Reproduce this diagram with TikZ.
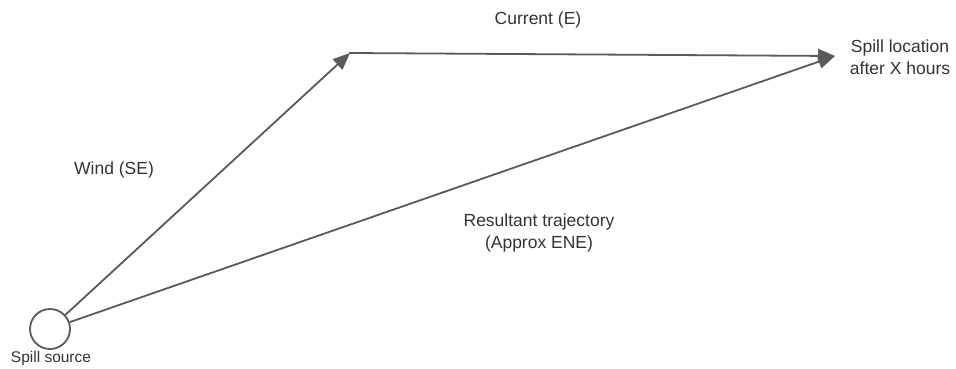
\documentclass[tikz,border=0pt]{standalone}
\usepackage{fontspec}
\setmainfont{Liberation Sans}
\usetikzlibrary{arrows.meta}
\definecolor{linegray}{HTML}{5A5A5A}
\definecolor{textgray}{HTML}{333333}
\begin{document}
\begin{tikzpicture}[x=1pt,y=-1pt,
  vec/.style={draw=linegray,line width=1.8pt,-{Triangle[length=17pt,width=14pt]}},
  lbl/.style={text=textgray,font=\fontsize{17.5}{22}\selectfont,align=center,inner sep=0pt},
  small/.style={text=textgray,font=\fontsize{15.5}{18}\selectfont,inner sep=0pt}]
  \useasboundingbox (0,0) rectangle (956,368);
  % spill source
  \node[circle,draw=linegray,line width=1.8pt,minimum size=40pt,inner sep=0pt] (src) at (50,329) {};
  \node[small] (srclbl) at (51,358) {Spill source};
  % wind vector end and final position
  \coordinate (wind) at (350,53);
  \coordinate (dest) at (835,56);
  \node[lbl] (destlbl) at (900,57) {Spill location\\after X hours};
  % vectors
  \draw[vec] (src) -- (wind);
  \draw[vec,shorten <=-0.9pt] (wind) -- (dest);
  \draw[vec] (src) -- (dest);
  % labels
  \node[lbl] (curlbl) at (538,20) {Current (E)};
  \node[lbl] (windlbl) at (114,170) {Wind (SE)};
  \node[lbl] (reslbl) at (539,233) {Resultant trajectory\\(Approx ENE)};
\end{tikzpicture}
\end{document}
